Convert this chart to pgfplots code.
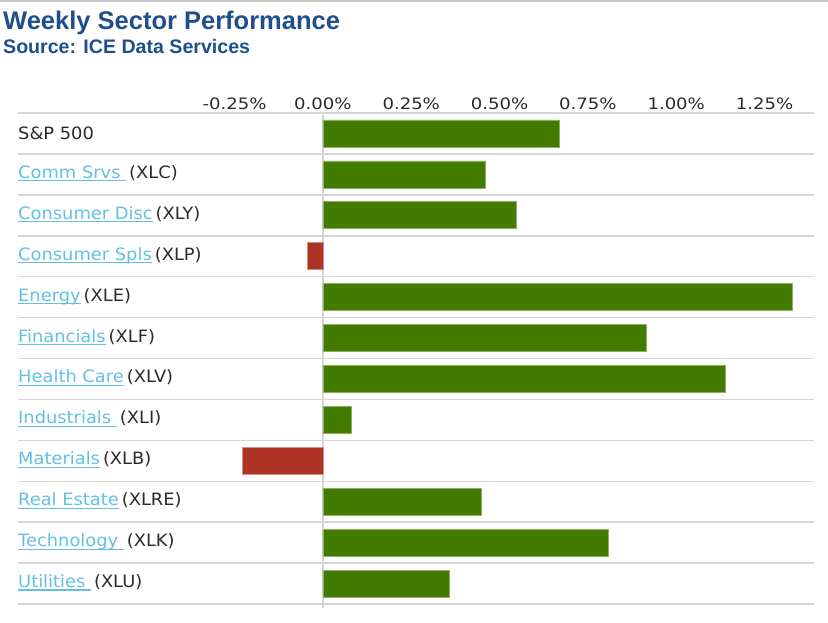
\documentclass[border=0pt]{standalone}
\usepackage{pgfplots}
\pgfplotsset{compat=1.18}
\usepackage{pgfplotstable}
\usepackage{fontspec}
\setmainfont{DejaVu Sans}
\newfontfamily\titlefont{Liberation Sans}
\newfontfamily\rowfont[FakeStretch=1.05]{DejaVu Sans}
\newfontfamily\tickfont[FakeStretch=1.15]{DejaVu Sans}

\definecolor{pos}{HTML}{437A00}
\definecolor{neg}{HTML}{AE3324}
\definecolor{ttl}{HTML}{1F4E8C}
\definecolor{lnk}{HTML}{62C0E2}
\definecolor{txt}{HTML}{2A2A2A}
\definecolor{sep}{HTML}{D6D6D6}

% link-style label: light blue, underlined just under the baseline
\newcommand\lk[1]{\setbox0\hbox{#1}{\color{lnk}\rlap{\rule[-3bp]{\wd0}{1.1bp}}\box0}}

% weekly change in %, rows numbered from the bottom (Utilities = 0)
\pgfplotstableread{
y x
11 0.668
10 0.459
9 0.546
7 1.328
6 0.915
5 1.138
4 0.079
2 0.447
1 0.807
0 0.357
}\posdata
\pgfplotstableread{
y x
8 -0.045
3 -0.227
}\negdata

\begin{document}
\begin{tikzpicture}[
    lab/.style={anchor=base west, inner sep=0pt, yshift=-4bp, text=txt,
                font=\rowfont\fontsize{17bp}{20bp}\selectfont}]
\useasboundingbox (0,0) rectangle (828bp,-623bp);
\draw[gray!45, line width=1.5bp] (0,-0.75bp) -- (828bp,-0.75bp);
\node[anchor=base west, inner sep=0, text=ttl,
      font=\titlefont\bfseries\fontsize{25.5bp}{30bp}\selectfont] at (3bp,-29bp) {Weekly Sector Performance};
\node[anchor=base west, inner sep=0, text=ttl,
      font=\titlefont\bfseries\fontsize{19.6bp}{23bp}\selectfont] at (3bp,-53bp) {Source: ICE Data Services};

\begin{axis}[
    at={(18bp,-604bp)}, anchor=south west,
    scale only axis,
    width=796bp, height=491bp,
    xmin=-0.863, xmax=1.39,
    ymin=-0.5, ymax=11.5,
    axis line style={draw=none},
    xtick={-0.25,0,0.25,0.5,0.75,1,1.25},
    xticklabels={-0.25\%,0.00\%,0.25\%,0.50\%,0.75\%,1.00\%,1.25\%},
    xticklabel pos=upper,
    xticklabel style={font=\tickfont\fontsize{15.7bp}{18bp}\selectfont, text=txt},
    major tick length=0pt,
    ytick={-0.5,0.5,...,11.5},
    yticklabels={},
    ymajorgrids,
    grid style={sep, line width=1.5bp},
    clip=false,
]
\draw[sep, line width=1.3bp] (axis cs:0,11.45) -- (axis cs:0,-0.6);

\addplot[xbar, bar shift=0pt, bar width=27bp, fill=pos, draw=pos!60!white, line width=0.6bp]
    table[x=x, y=y] {\posdata};
\addplot[xbar, bar shift=0pt, bar width=27bp, fill=neg, draw=neg!55!white, line width=0.6bp]
    table[x=x, y=y] {\negdata};

\node[lab, yshift=-2bp] at (axis cs:-0.863,11) {S\&P 500};
\node[lab] at (axis cs:-0.863,10) {\lk{Comm Srvs\ }\kern3bp(XLC)};
\node[lab] at (axis cs:-0.863,9)  {\lk{Consumer Disc}\kern3bp(XLY)};
\node[lab] at (axis cs:-0.863,8)  {\lk{Consumer Spls}\kern3bp(XLP)};
\node[lab] at (axis cs:-0.863,7)  {\lk{Energy}\kern3bp(XLE)};
\node[lab] at (axis cs:-0.863,6)  {\lk{Financials}\kern3bp(XLF)};
\node[lab] at (axis cs:-0.863,5)  {\lk{Health Care}\kern3bp(XLV)};
\node[lab] at (axis cs:-0.863,4)  {\lk{Industrials\ }\kern3bp(XLI)};
\node[lab] at (axis cs:-0.863,3)  {\lk{Materials}\kern3bp(XLB)};
\node[lab] at (axis cs:-0.863,2)  {\lk{Real Estate}\kern3bp(XLRE)};
\node[lab] at (axis cs:-0.863,1)  {\lk{Technology\ }\kern3bp(XLK)};
\node[lab] at (axis cs:-0.863,0)  {\lk{Utilities\ }\kern3bp(XLU)};
\end{axis}
\end{tikzpicture}
\end{document}
